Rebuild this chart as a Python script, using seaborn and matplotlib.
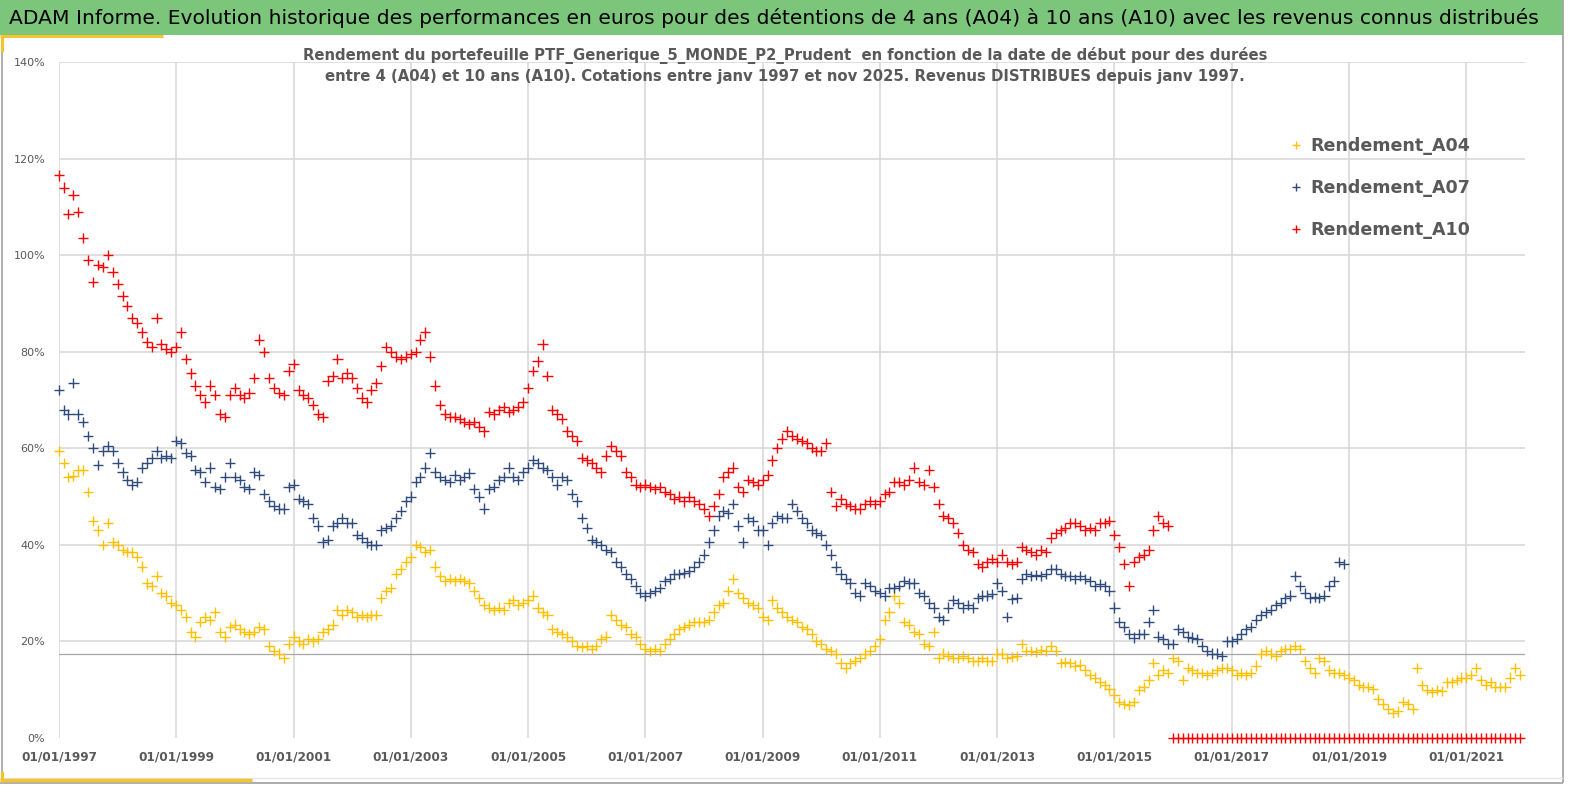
import numpy as np
import pandas as pd
import matplotlib
matplotlib.use("Agg")
import matplotlib.pyplot as plt
import seaborn as sns
from matplotlib.patches import Rectangle
from matplotlib.lines import Line2D

# ==========================================================
#   DATA (one value per month, in %)
# ==========================================================
start_date = "1997-01-01"

rendement_a04 = [
    59.5, 57.0, 54.0, 54.2, 55.5, 55.5, 51.0, 45.0, 43.0, 40.0, 44.5, 40.5,  # 1997
    40.0, 39.0, 38.5, 38.5, 37.5, 35.5, 32.0, 31.5, 33.5, 30.0, 29.5, 28.0,  # 1998
    27.5, 26.5, 25.0, 22.0, 21.0, 24.0, 25.0, 24.5, 26.0, 22.0, 21.0, 23.0,  # 1999
    23.5, 22.5, 22.0, 21.5, 22.0, 23.0, 22.5, 19.0, 18.0, 17.5, 16.5, 19.5,  # 2000
    21.0, 20.0, 19.5, 20.5, 20.0, 20.5, 22.0, 22.5, 23.5, 26.5, 25.5, 26.5,  # 2001
    26.0, 25.0, 25.5, 25.0, 25.5, 25.5, 29.0, 30.5, 31.0, 34.0, 35.0, 36.5,  # 2002
    37.5, 40.0, 39.5, 38.5, 39.0, 35.5, 33.5, 32.5, 33.0, 32.5, 33.0, 32.5,  # 2003
    32.0, 30.5, 29.0, 27.5, 27.0, 26.5, 27.0, 26.5, 28.0, 28.5, 27.5, 28.0,  # 2004
    28.5, 29.5, 27.0, 26.0, 25.5, 22.5, 22.0, 21.5, 21.0, 20.0, 19.0, 18.8,  # 2005
    19.0, 18.5, 19.0, 20.5, 21.0, 25.5, 24.5, 23.5, 23.0, 21.5, 21.0, 19.5,  # 2006
    18.5, 18.0, 18.5, 18.0, 19.5, 20.5, 21.5, 22.5, 23.0, 23.5, 24.0, 24.0,  # 2007
    24.0, 24.5, 26.0, 27.5, 28.0, 30.5, 33.0, 30.0, 29.0, 28.0, 27.5, 27.0,  # 2008
    25.0, 24.5, 28.5, 27.0, 26.0, 25.0, 24.5, 24.0, 23.0, 22.5, 21.5, 20.0,  # 2009
    19.5, 18.5, 18.0, 17.5, 15.5, 14.5, 15.5, 16.0, 16.5, 17.5, 18.0, 19.0,  # 2010
    20.5, 24.5, 26.0, 29.5, 28.0, 24.0, 23.5, 22.0, 21.5, 19.5, 19.0, 22.0,  # 2011
    16.5, 17.5, 17.0, 16.5, 16.5, 17.0, 16.5, 16.0, 16.0, 16.5, 16.0, 16.0,  # 2012
    17.5, 17.5, 16.5, 16.8, 17.0, 19.5, 18.0, 18.0, 17.8, 18.2, 18.0, 19.0,  # 2013
    18.0, 15.5, 15.8, 15.5, 15.0, 15.2, 14.0, 13.0, 12.5, 11.5, 11.0, 10.2,  # 2014
    9.0, 7.5, 7.0, 6.8, 7.5, 10.0, 10.5, 12.0, 15.5, 13.0, 14.0, 13.5,       # 2015
    16.5, 16.0, 12.0, 14.5, 14.0, 13.5, 13.5, 13.0, 13.5, 14.0, 14.5, 14.5,  # 2016
    14.0, 13.0, 13.5, 13.0, 13.5, 15.0, 17.5, 18.0, 17.5, 17.0, 18.0, 18.5,  # 2017
    18.5, 19.0, 18.5, 16.0, 14.5, 13.5, 16.5, 16.0, 14.0, 13.5, 13.5, 13.0,  # 2018
    12.5, 12.0, 11.0, 10.5, 10.5, 10.2, 8.0, 7.0, 6.0, 5.2, 5.5, 7.5,        # 2019
    7.0, 6.0, 14.5, 11.0, 10.0, 9.5, 10.0, 9.8, 11.5, 11.5, 12.0, 12.5,      # 2020
    12.5, 13.0, 14.5, 12.0, 11.0, 11.5, 10.5, 10.5, 10.5, 12.5, 14.5, 13.0,  # 2021
]

rendement_a07 = [
    72.0, 68.0, 67.0, 73.5, 67.0, 65.5, 62.5, 60.0, 56.5, 59.5, 60.5, 59.5,  # 1997
    57.0, 55.0, 53.5, 52.5, 53.0, 56.0, 57.0, 58.0, 59.5, 58.0, 58.5, 58.0,  # 1998
    61.5, 61.0, 59.0, 58.5, 55.5, 55.0, 53.0, 56.0, 52.0, 51.5, 54.0, 57.0,  # 1999
    54.0, 53.5, 52.0, 51.5, 55.0, 54.5, 50.5, 49.0, 48.0, 47.5, 47.5, 52.0,  # 2000
    52.5, 49.5, 49.0, 48.5, 45.5, 44.0, 40.5, 41.0, 44.0, 44.5, 45.5, 44.5,  # 2001
    44.5, 42.0, 41.5, 40.5, 40.0, 40.0, 43.0, 43.5, 44.0, 45.5, 47.0, 49.0,  # 2002
    50.0, 53.0, 54.0, 56.0, 59.0, 55.0, 54.0, 53.5, 53.0, 54.5, 53.5, 54.0,  # 2003
    54.8, 51.5, 50.0, 47.5, 51.5, 52.0, 53.5, 54.0, 56.0, 54.0, 53.5, 55.0,  # 2004
    56.0, 57.5, 57.0, 56.0, 55.5, 54.0, 52.5, 54.0, 53.5, 50.5, 49.0, 45.5,  # 2005
    43.5, 41.0, 40.5, 40.0, 39.0, 38.5, 36.5, 35.5, 34.0, 33.0, 31.5, 30.0,  # 2006
    29.5, 30.0, 30.5, 31.0, 32.5, 33.0, 34.0, 34.0, 34.2, 34.5, 35.5, 36.5,  # 2007
    38.0, 40.5, 43.0, 46.0, 47.0, 46.5, 48.5, 44.0, 40.5, 45.5, 45.0, 43.0,  # 2008
    43.0, 40.0, 44.5, 46.0, 45.5, 45.5, 48.5, 47.0, 45.5, 44.5, 43.0, 42.5,  # 2009
    42.0, 40.0, 38.0, 35.5, 34.0, 33.0, 32.0, 30.0, 29.5, 32.0, 31.5, 30.5,  # 2010
    30.0, 29.5, 31.0, 31.0, 31.5, 32.5, 32.0, 32.0, 30.0, 29.5, 28.0, 27.0,  # 2011
    25.0, 24.5, 27.0, 28.5, 28.0, 27.0, 27.5, 27.0, 29.0, 29.5, 29.5, 29.8,  # 2012
    32.0, 30.5, 25.0, 28.8, 29.0, 33.0, 34.0, 33.5, 33.8, 33.5, 34.0, 35.0,  # 2013
    35.0, 34.0, 33.5, 33.5, 33.0, 33.5, 33.0, 32.5, 31.5, 31.8, 31.5, 30.5,  # 2014
    27.0, 24.0, 23.0, 21.5, 20.8, 21.5, 21.5, 24.0, 26.5, 21.0, 20.5, 19.5,  # 2015
    19.5, 22.5, 22.0, 21.0, 20.8, 20.5, 19.0, 18.0, 17.5, 17.5, 17.0, 20.0,  # 2016
    20.0, 20.5, 21.5, 22.5, 23.0, 24.5, 25.5, 26.0, 26.5, 27.5, 28.0, 29.0,  # 2017
    29.5, 33.5, 31.5, 30.0, 29.0, 29.2, 29.0, 29.5, 31.5, 32.5, 36.5, 36.0,  # 2018
]

rendement_a10 = [
    116.5, 114.0, 108.5, 112.5, 109.0, 103.5, 99.0, 94.5, 98.0, 97.5, 100.0, 96.5,  # 1997
    94.0, 91.5, 89.5, 87.0, 86.0, 84.0, 82.0, 81.0, 87.0, 81.5, 80.5, 80.0,  # 1998
    81.0, 84.0, 78.5, 75.5, 73.0, 71.0, 69.5, 73.0, 71.0, 67.0, 66.5, 71.0,  # 1999
    72.5, 71.0, 70.5, 71.5, 74.5, 82.5, 80.0, 74.5, 72.5, 71.5, 71.0, 76.0,  # 2000
    77.5, 72.0, 71.0, 70.5, 69.0, 67.0, 66.5, 74.0, 75.0, 78.5, 74.5, 75.5,  # 2001
    74.5, 72.5, 70.5, 69.5, 72.0, 73.5, 77.0, 81.0, 80.0, 79.0, 78.5, 79.0,  # 2002
    79.5, 80.0, 82.5, 84.0, 79.0, 73.0, 69.0, 67.0, 66.5, 66.5, 66.0, 65.5,  # 2003
    65.0, 65.5, 64.5, 63.5, 67.5, 67.0, 68.0, 68.5, 67.5, 68.0, 68.5, 69.5,  # 2004
    72.5, 76.0, 78.0, 81.5, 75.0, 68.0, 67.0, 66.0, 63.5, 62.5, 61.5, 58.0,  # 2005
    57.5, 57.0, 56.0, 55.0, 58.5, 60.5, 59.5, 58.5, 55.0, 54.0, 52.5, 52.0,  # 2006
    52.5, 52.0, 51.5, 52.0, 51.0, 50.5, 49.5, 50.0, 49.0, 50.0, 49.0, 48.5,  # 2007
    47.5, 46.0, 48.0, 50.5, 54.0, 55.0, 56.0, 52.0, 51.0, 53.5, 53.0, 52.5,  # 2008
    53.5, 54.5, 57.5, 60.0, 62.0, 63.5, 62.5, 62.0, 61.5, 61.0, 60.0, 59.5,  # 2009
    59.5, 61.0, 51.0, 48.0, 49.5, 48.5, 48.0, 47.5, 47.5, 48.5, 49.0, 48.5,  # 2010
    49.0, 50.5, 51.0, 53.0, 53.0, 52.5, 53.5, 56.0, 53.0, 52.5, 55.5, 52.0,  # 2011
    48.5, 46.0, 45.5, 44.5, 42.5, 40.0, 39.0, 38.5, 36.0, 35.5, 36.5, 37.0,  # 2012
    36.5, 38.0, 36.5, 36.0, 36.5, 39.5, 39.0, 38.5, 38.0, 39.0, 38.5, 41.5,  # 2013
    42.5, 43.0, 43.5, 44.5, 44.5, 44.0, 43.0, 43.5, 43.0, 44.5, 44.5, 45.0,  # 2014
    42.0, 39.5, 36.0, 31.5, 36.5, 37.5, 38.0, 39.0, 43.0, 46.0, 44.5, 44.0,  # 2015
    0, 0, 0, 0, 0, 0, 0, 0, 0, 0, 0, 0,  # 2016
    0, 0, 0, 0, 0, 0, 0, 0, 0, 0, 0, 0,  # 2017
    0, 0, 0, 0, 0, 0, 0, 0, 0, 0, 0, 0,  # 2018
    0, 0, 0, 0, 0, 0, 0, 0, 0, 0, 0, 0,  # 2019
    0, 0, 0, 0, 0, 0, 0, 0, 0, 0, 0, 0,  # 2020
    0, 0, 0, 0, 0, 0, 0, 0, 0, 0, 0, 0,  # 2021
]

series_names = ["Rendement_A04", "Rendement_A07", "Rendement_A10"]
series_colors = ["#FFC000", "#2F4B7C", "#FF0000"]

x_tick_labels = ["01/01/1997", "01/01/1999", "01/01/2001", "01/01/2003", "01/01/2005",
                 "01/01/2007", "01/01/2009", "01/01/2011", "01/01/2013", "01/01/2015",
                 "01/01/2017", "01/01/2019", "01/01/2021"]
y_ticks = [0, 20, 40, 60, 80, 100, 120, 140]
y_tick_labels = ["0%", "20%", "40%", "60%", "80%", "100%", "120%", "140%"]
ref_line = 17.4

title = ("ADAM Informe. Evolution historique des performances en euros pour des détentions "
         "de 4 ans (A04) à 10 ans (A10) avec les revenus connus distribués")
subtitle_1 = ("Rendement du portefeuille PTF_Generique_5_MONDE_P2_Prudent  en fonction "
              "de la date de début pour des durées")
subtitle_2 = ("entre 4 (A04) et 10 ans (A10). Cotations entre janv 1997 et nov 2025. "
              "Revenus DISTRIBUES depuis janv 1997.")

# ==========================================================
#   LONG TABLE FOR SEABORN
# ==========================================================
frames = []
for name, vals in zip(series_names, [rendement_a04, rendement_a07, rendement_a10]):
    dates = pd.date_range(start_date, periods=len(vals), freq="MS")
    frames.append(pd.DataFrame({"date": dates, "rendement": vals, "serie": name}))
df = pd.concat(frames, ignore_index=True)

# ==========================================================
#   FIGURE
# ==========================================================
W, H = 1569, 785


def fx(px):
    return px / W


def fy(py):
    return 1 - py / H


sns.set_style("white")
plt.rcParams["font.family"] = ["DejaVu Sans"]

fig = plt.figure(figsize=(W / 100, H / 100), dpi=100, facecolor="white")
ax = fig.add_axes([fx(59), fy(738), fx(1525) - fx(59), fy(62) - fy(738)])

sns.scatterplot(
    data=df, x="date", y="rendement", hue="serie", hue_order=series_names,
    palette=dict(zip(series_names, series_colors)),
    marker="+", s=55, linewidth=1.0, ax=ax, clip_on=False, zorder=3,
)

ax.axhline(ref_line, color="#a6a6a6", lw=0.9, zorder=2)

ax.set_xlim(pd.Timestamp("1997-01-01"), pd.Timestamp("2022-01-01"))
ax.set_ylim(0, 140)
ax.set_xticks(pd.to_datetime(x_tick_labels, format="%d/%m/%Y"))
ax.set_xticklabels(x_tick_labels, fontsize=8.7, fontweight="bold", color="#595959")
ax.set_yticks(y_ticks)
ax.set_yticklabels(y_tick_labels, fontsize=8, color="#595959")
ax.tick_params(axis="both", length=0)
ax.tick_params(axis="x", pad=9)
ax.tick_params(axis="y", pad=10)
ax.set_xlabel("")
ax.set_ylabel("")

ax.grid(True, color="#d9d9d9", linewidth=1.2)
ax.yaxis.get_gridlines()[0].set_visible(False)
ax.set_axisbelow(True)
for sp in ax.spines.values():
    sp.set_visible(False)

handles, labels = ax.get_legend_handles_labels()
ax.legend(
    handles, labels, loc="upper left", bbox_to_anchor=(fx(1291), fy(137)),
    bbox_transform=fig.transFigure, frameon=False,
    prop={"weight": "bold", "size": 12.6}, labelcolor="#595959",
    handlelength=0.6, handletextpad=0.5, labelspacing=1.38,
    borderpad=0, borderaxespad=0, markerscale=0.7,
)

# ----- banner, titles and frame -----
fig.add_artist(Rectangle((0, fy(35)), fx(1563), 35 / H, transform=fig.transFigure,
                         facecolor="#7CC67B", edgecolor="none", zorder=0))
fig.text(fx(9), fy(18), title, ha="left", va="center", fontsize=14.6, color="black")

fig.text(fx(785), fy(55), subtitle_1, ha="center", va="center",
         fontsize=10.75, fontweight="bold", color="#595959")
fig.text(fx(785), fy(76), subtitle_2, ha="center", va="center",
         fontsize=10.75, fontweight="bold", color="#595959")


def fig_line(x0, y0, x1, y1, color, lw):
    fig.add_artist(Line2D([fx(x0), fx(x1)], [fy(y0), fy(y1)], transform=fig.transFigure,
                          color=color, lw=lw, solid_capstyle="butt"))


fig_line(2, 50, 2, 776, "#a0a0a0", 1.2)
fig_line(0, 783, 1563, 783, "#a0a0a0", 1.2)
fig_line(1563, 0, 1563, 783, "#a0a0a0", 1.2)
fig_line(0, 778, 1563, 778, "#e6e6e6", 1.0)
fig_line(0, 36, 163, 36, "#F4C430", 2.2)
fig_line(1.5, 36, 1.5, 52, "#F4C430", 2.2)
fig_line(0, 780, 252, 780, "#F4C430", 2.5)
fig_line(1.5, 771, 1.5, 782, "#F4C430", 2.2)

fig.savefig("out.png", dpi=100, facecolor="white")
plt.close(fig)
